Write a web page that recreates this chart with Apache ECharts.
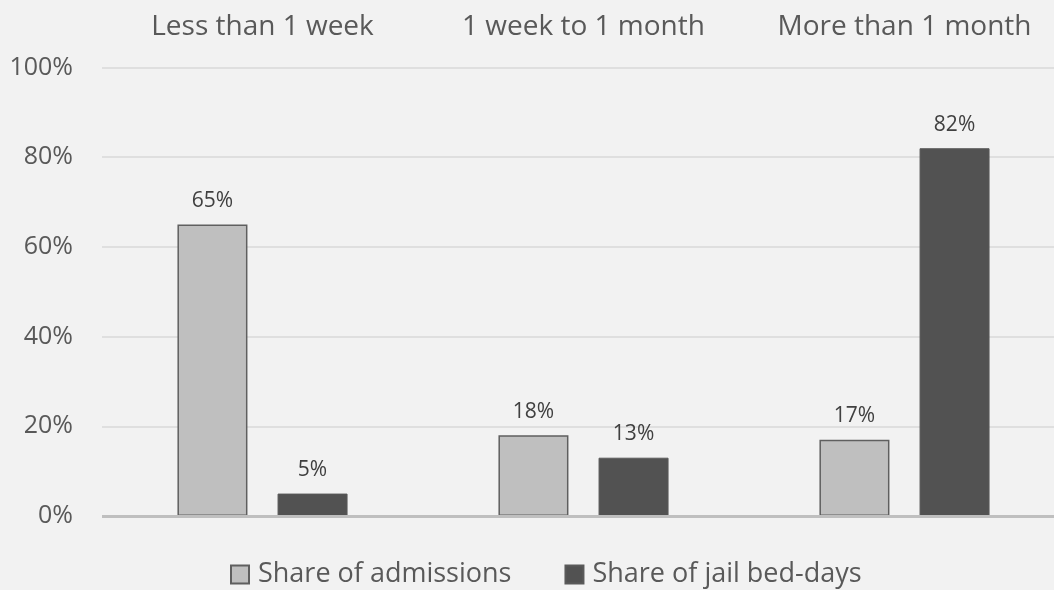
<!DOCTYPE html>
<html><head><meta charset="utf-8">
<script src="https://cdn.jsdelivr.net/npm/echarts@6/dist/echarts.min.js"></script>
<style>html,body{margin:0;padding:0;background:#f2f2f2;overflow:hidden;width:1054px;height:590px}#c{width:1065px;height:590px}</style>
</head><body><div id="c"></div>
<script>
const categories = ['Less than 1 week', '1 week to 1 month', 'More than 1 month'];
const admissions = [65, 18, 17];
const bedDays = [5, 13, 82];
const seriesNames = ['Share of admissions', 'Share of jail bed-days'];
const FONT = 'Open Sans';
const chart = echarts.init(document.getElementById('c'));
chart.setOption({
  backgroundColor: '#f2f2f2',
  textStyle: {fontFamily: FONT},
  animation: false,
  grid: {left: 102, right: 0, top: 67.5, bottom: 74},
  legend: {
    top: 561, left: 230, padding: 0, itemWidth: 18, itemHeight: 18, itemGap: 53,
    icon: 'rect',
    textStyle: {fontSize: 27, color: '#595959', fontFamily: FONT, padding: [0, 0, 0, 4]},
    data: seriesNames
  },
  xAxis: {
    type: 'category', position: 'top', data: categories,
    axisLine: {show: false}, axisTick: {show: false},
    axisLabel: {fontSize: 28, color: '#595959', margin: 26, interval: 0, hideOverlap: false, fontFamily: FONT}
  },
  yAxis: {
    type: 'value', min: 0, max: 100, interval: 20,
    axisLabel: {formatter: '{value}%', fontSize: 25, color: '#595959', margin: 29, fontFamily: FONT},
    splitLine: {lineStyle: {color: '#d9d9d9', width: 1.5}},
    axisLine: {show: false}, axisTick: {show: false}
  },
  series: [
    {
      name: seriesNames[0], type: 'bar', data: admissions, barWidth: 70, barGap: '43%',
      itemStyle: {color: '#bfbfbf', borderColor: '#5f5f5f', borderWidth: 1.5},
      label: {show: true, position: 'top', distance: 13, formatter: '{c}%', fontSize: 21, color: '#404040', fontFamily: FONT},
      markLine: {
        silent: true, symbol: 'none', label: {show: false},
        lineStyle: {color: '#bfbfbf', width: 3, type: 'solid'},
        data: [{yAxis: 0}]
      }
    },
    {
      name: seriesNames[1], type: 'bar', data: bedDays, barWidth: 70,
      itemStyle: {color: '#525252', borderColor: '#5a5a5a', borderWidth: 1},
      label: {show: true, position: 'top', distance: 13, formatter: '{c}%', fontSize: 21, color: '#404040', fontFamily: FONT}
    }
  ]
});
</script></body></html>
